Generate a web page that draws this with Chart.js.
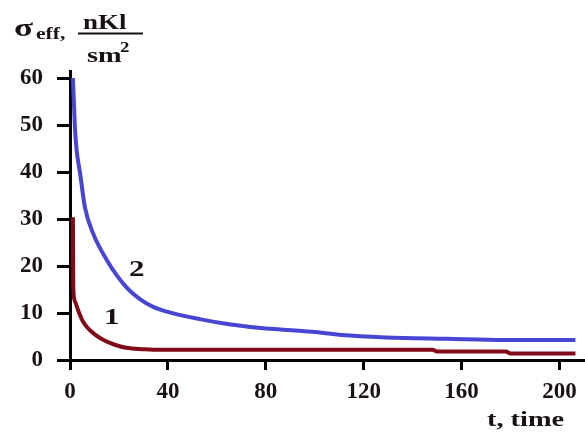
<!DOCTYPE html>
<html>
<head>
<meta charset="utf-8">
<script src="https://cdn.jsdelivr.net/npm/chart.js@4/dist/chart.umd.min.js"></script>
<style>
  html, body { margin: 0; padding: 0; background: #fff; }
  #wrap { width: 585px; height: 434px; }
</style>
</head>
<body>
<div id="wrap"><canvas id="chart" width="585" height="434"></canvas></div>
<script>
const X_TICKS = [0, 40, 80, 120, 160, 200];
const Y_TICKS = [0, 10, 20, 30, 40, 50, 60];

const CURVE_2_T = [1.2, 2, 2.7, 4.1, 6.1, 9.4, 15, 23, 29, 34, 39.5, 53, 65, 80, 86, 99, 111, 129, 154, 178, 206.5];
const CURVE_2_V = [60, 49.6, 44.7, 39.8, 32.5, 27, 21.3, 15.5, 12.8, 11.3, 10.3, 8.7, 7.6, 6.7, 6.5, 6.0, 5.3, 4.8, 4.5, 4.25, 4.25];

const CURVE_1_T = [1.2, 1.35, 2, 3.3, 5, 6.9, 10, 13.5, 18, 23, 30, 34, 148, 150, 178, 180, 206.5];
const CURVE_1_V = [30.4, 15.5, 12.5, 10.6, 8.5, 7, 5.5, 4.3, 3.3, 2.6, 2.3, 2.2, 2.2, 1.8, 1.8, 1.4, 1.4];

const toPoints = (ts, vs) => ts.map((t, i) => ({ x: t, y: vs[i] }));

const TEXT = '#1a1212';
const SERIF = '"Times New Roman", "Liberation Serif", Tinos, serif';
const STRETCH = 1.35;

// draws horizontally stretched bold serif text, x is the left edge in px
function wideText(ctx, str, x, y, size) {
  ctx.save();
  ctx.font = `bold ${size}px ${SERIF}`;
  ctx.fillStyle = TEXT;
  ctx.textBaseline = 'alphabetic';
  ctx.textAlign = 'left';
  ctx.scale(STRETCH, 1);
  ctx.fillText(str, x / STRETCH, y);
  ctx.restore();
}

const annotations = {
  id: 'annotations',
  afterDraw(chart) {
    const ctx = chart.ctx;
    // y axis title: sigma_eff, nKl / sm^2
    wideText(ctx, 'σ', 14, 36, 26);
    wideText(ctx, 'eff,', 36, 39, 16);
    ctx.save();
    ctx.strokeStyle = TEXT;
    ctx.lineWidth = 2;
    ctx.beginPath();
    ctx.moveTo(78, 33.5);
    ctx.lineTo(143, 33.5);
    ctx.stroke();
    ctx.restore();
    wideText(ctx, 'nKl', 83, 29, 20);
    wideText(ctx, 'sm', 87, 62, 21);
    wideText(ctx, '2', 120, 52, 14);
    // x axis title
    wideText(ctx, 't, time', 487, 426, 21);
    // curve labels
    wideText(ctx, '2', 129, 276, 23);
    wideText(ctx, '1', 104, 324, 23);
  }
};

const fixedTicks = (values) => (scale) => {
  scale.ticks = values.map(v => ({ value: v }));
};

new Chart(document.getElementById('chart'), {
  type: 'scatter',
  data: {
    datasets: [
      {
        label: '2',
        data: toPoints(CURVE_2_T, CURVE_2_V),
        showLine: true,
        borderColor: '#4646d2',
        borderWidth: 4,
        pointRadius: 0,
        cubicInterpolationMode: 'monotone'
      },
      {
        label: '1',
        data: toPoints(CURVE_1_T, CURVE_1_V),
        showLine: true,
        borderColor: '#820a18',
        borderWidth: 4,
        pointRadius: 0,
        cubicInterpolationMode: 'monotone'
      }
    ]
  },
  options: {
    responsive: false,
    animation: false,
    layout: { padding: { left: 0, top: 71, right: 1, bottom: 0 } },
    plugins: {
      legend: { display: false },
      tooltip: { enabled: false }
    },
    scales: {
      x: {
        type: 'linear',
        min: 0,
        max: 210,
        afterBuildTicks: fixedTicks(X_TICKS),
        afterFit: (scale) => { scale.height = 74; },
        border: { color: '#000', width: 3 },
        grid: { drawOnChartArea: false, drawTicks: true, tickLength: 10, color: '#000', lineWidth: 3 },
        ticks: {
          padding: 8,
          color: TEXT,
          maxRotation: 0,
          autoSkip: false,
          font: { family: SERIF, size: 23, weight: 'bold' }
        }
      },
      y: {
        type: 'linear',
        min: 0,
        max: 61.5,
        afterBuildTicks: fixedTicks(Y_TICKS),
        afterFit: (scale) => { scale.width = 70; },
        border: { color: '#000', width: 3 },
        grid: { drawOnChartArea: false, drawTicks: true, tickLength: 13, color: '#000', lineWidth: 3 },
        ticks: {
          padding: 14,
          color: TEXT,
          autoSkip: false,
          font: { family: SERIF, size: 23, weight: 'bold' }
        }
      }
    }
  },
  plugins: [annotations]
});
</script>
</body>
</html>
